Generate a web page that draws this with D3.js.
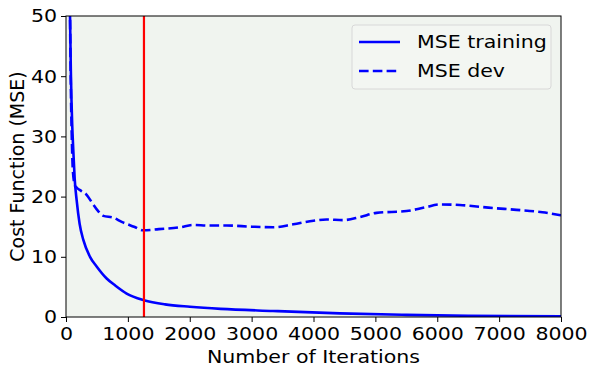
<!DOCTYPE html>
<html>
<head>
<meta charset="utf-8">
<script src="https://cdn.jsdelivr.net/npm/d3@7"></script>
<style>
  body { margin: 0; background: #fff; }
  text { font-family: "DejaVu Sans", sans-serif; }
</style>
</head>
<body>
<div id="chart"></div>
<script>
// iterations and cost values
const trainIters = [50, 65, 80, 100, 118, 140, 172, 220, 280, 388, 495, 657, 800, 980, 1260, 1600, 2003, 2500, 3345, 4426, 5500, 6500, 8000];
const trainMse = [70, 50, 40, 32, 27.7, 23, 19.4, 15.5, 12.8, 10, 8.4, 6.4, 5.2, 3.9, 2.8, 2.1, 1.7, 1.35, 1.0, 0.6, 0.35, 0.2, 0.1];

const devIters = [50, 65, 80, 92, 110, 145, 172, 250, 334, 420, 520, 603, 765, 900, 1100, 1250, 1500, 1842, 2057, 2300, 2596, 3000, 3350, 3673, 4000, 4212, 4480, 4750, 5019, 5504, 5800, 6042, 6365, 6903, 7280, 7700, 8000];
const devMse = [70, 50, 37, 30.6, 24.5, 21.8, 21.5, 20.9, 20.3, 19.0, 17.6, 16.8, 16.5, 15.8, 15.0, 14.4, 14.6, 14.9, 15.3, 15.2, 15.2, 15.0, 14.9, 15.4, 16.0, 16.2, 16.1, 16.6, 17.3, 17.6, 18.2, 18.7, 18.6, 18.1, 17.8, 17.4, 16.9];

const bestIter = 1260;
const xTicks = [0, 1000, 2000, 3000, 4000, 5000, 6000, 7000, 8000];
const yTicks = [0, 10, 20, 30, 40, 50];
const seriesNames = ["MSE training", "MSE dev"];

const W = 594, H = 375;
const margin = { top: 16, right: 33, bottom: 58, left: 66 };
const width = W - margin.left - margin.right;
const height = H - margin.top - margin.bottom;
const fs = "18.5px";
const widen = 1.11; // the reference's glyphs are a bit wider than tall

// widen horizontal text about its anchor point
function stretch(sel) {
  sel.each(function () {
    const x0 = +this.getAttribute("x") || 0;
    d3.select(this).attr("transform", `translate(${x0},0) scale(${widen},1) translate(${-x0},0)`);
  });
}

const svg = d3.select("#chart").append("svg")
  .attr("width", W).attr("height", H);

const g = svg.append("g").attr("transform", `translate(${margin.left},${margin.top})`);

const x = d3.scaleLinear().domain([0, 8000]).range([0, width]);
const y = d3.scaleLinear().domain([0, 50]).range([height, 0]);

g.append("rect").attr("width", width).attr("height", height).attr("fill", "#f0f4ef");

svg.append("defs").append("clipPath").attr("id", "clip")
  .append("rect").attr("width", width).attr("height", height);

const plot = g.append("g").attr("clip-path", "url(#clip)");

const line = d3.line().x(d => x(d[0])).y(d => y(d[1])).curve(d3.curveMonotoneX);

plot.append("path")
  .datum(trainIters.map((t, i) => [t, trainMse[i]]))
  .attr("d", line).attr("fill", "none").attr("stroke", "#0000ff").attr("stroke-width", 2.6);

plot.append("path")
  .datum(devIters.map((t, i) => [t, devMse[i]]))
  .attr("d", line).attr("fill", "none").attr("stroke", "#0000ff").attr("stroke-width", 2.6)
  .attr("stroke-dasharray", "9.6,4.2");

plot.append("line")
  .attr("x1", x(bestIter)).attr("x2", x(bestIter)).attr("y1", 0).attr("y2", height)
  .attr("stroke", "#ff0000").attr("stroke-width", 2.2);

// axes
const xAxis = g.append("g").attr("transform", `translate(0,${height})`)
  .call(d3.axisBottom(x).tickValues(xTicks).tickSize(5).tickPadding(5).tickFormat(d3.format("d")));
const yAxis = g.append("g")
  .call(d3.axisLeft(y).tickValues(yTicks).tickSize(5).tickPadding(4));
[xAxis, yAxis].forEach(a => {
  a.attr("font-size", null).attr("font-family", null);
  a.selectAll("text").style("font-size", fs).attr("fill", "#000").call(stretch);
  a.selectAll("line").attr("stroke", "#000");
  a.select(".domain").remove();
});

g.append("rect").attr("width", width).attr("height", height)
  .attr("fill", "none").attr("stroke", "#000").attr("stroke-width", 1);

svg.append("text").attr("x", margin.left + width / 2).attr("y", 363)
  .attr("text-anchor", "middle").style("font-size", fs).text("Number of Iterations").call(stretch);
svg.append("text").attr("transform", `translate(24,${margin.top + height / 2}) rotate(-90)`)
  .attr("text-anchor", "middle").style("font-size", "19px").text("Cost Function (MSE)");

// legend
const leg = g.append("g").attr("transform", `translate(${352 - margin.left},${25 - margin.top})`);
leg.append("rect").attr("width", 199).attr("height", 64).attr("rx", 3)
  .attr("fill", "#f3f6f2").attr("stroke", "#d8d8d8");
seriesNames.forEach((name, i) => {
  const yy = 17 + i * 29;
  leg.append("line").attr("x1", 7).attr("x2", 48).attr("y1", yy).attr("y2", yy)
    .attr("stroke", "#0000ff").attr("stroke-width", 2.6)
    .attr("stroke-dasharray", i === 1 ? "9.6,4.2" : null);
  leg.append("text").attr("x", 65).attr("y", yy + 6.5).style("font-size", fs).text(name).call(stretch);
});
</script>
</body>
</html>
